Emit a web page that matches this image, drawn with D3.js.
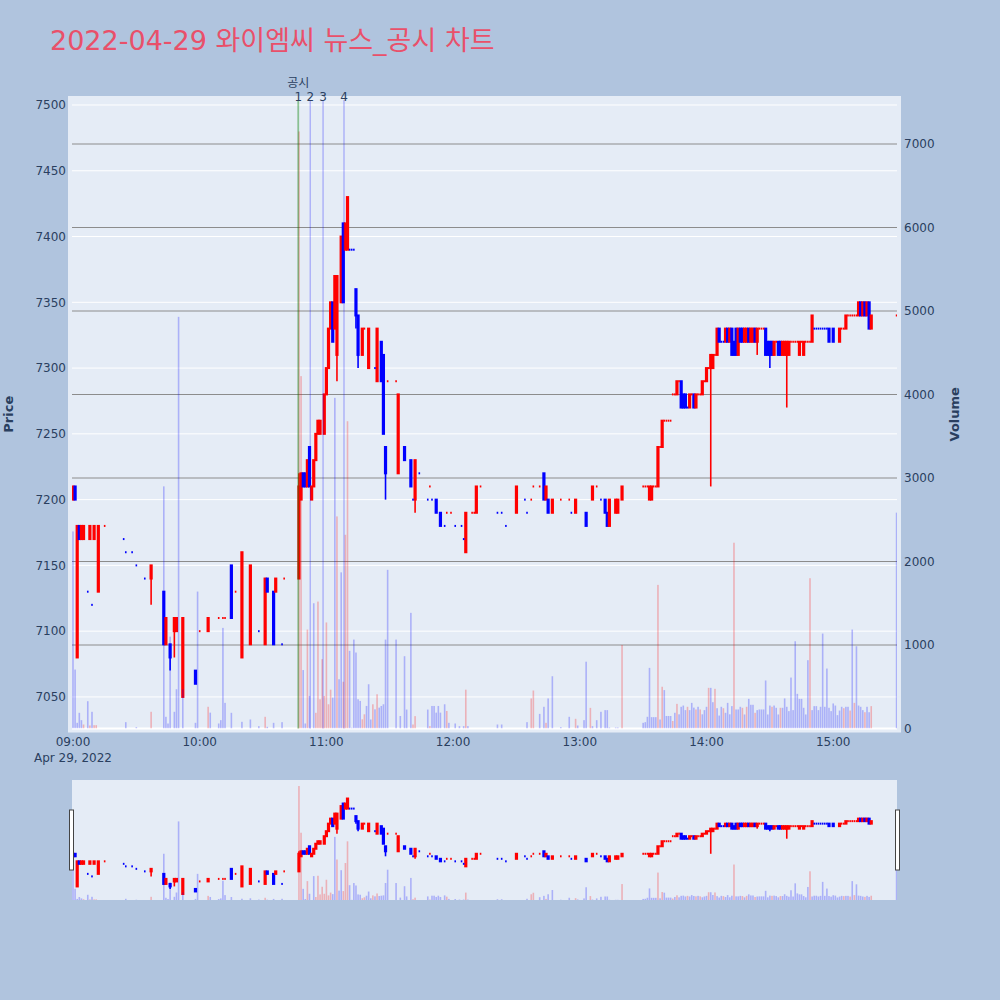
<!DOCTYPE html>
<html>
<head>
<meta charset="utf-8">
<script src="https://cdn.jsdelivr.net/npm/d3@7"></script>
<style>
  body { margin: 0; background: #b0c4de; }
  svg { display: block; font-family: "DejaVu Sans", "Noto Sans CJK KR", sans-serif; }
</style>
</head>
<body>
<svg id="chart" width="1000" height="1000"></svg>
<script>
const tradeDay = "2022-04-29";
const chartTitle = "2022-04-29 와이엠씨 뉴스_공시 차트";
const xRange = ["08:59:32", "15:30:12"];
const priceRange = [7026, 7503.8];
const volumeRange = [0, 7527];
const priceTicks = [7050, 7100, 7150, 7200, 7250, 7300, 7350, 7400, 7450, 7500];
const volumeTicks = [0, 1000, 2000, 3000, 4000, 5000, 6000, 7000];
const timeTicks = ["09:00", "10:00", "11:00", "12:00", "13:00", "14:00", "15:00"];
const dateLabel = "Apr 29, 2022";

// news / disclosure markers
const newsLines = [
  { time: "10:46:40", label: "1", kind: "공시" },
  { time: "10:52:20", label: "2", kind: "news" },
  { time: "10:58:25", label: "3", kind: "news" },
  { time: "11:08:20", label: "4", kind: "news" },
];

// 1-minute candles: [time, open, high, low, close]; [time, price] = flat tick
const candles = [
  ["09:00", 7200, 7210, 7200, 7210], ["09:01", 7210, 7210, 7200, 7200], ["09:02", 7080, 7180, 7080, 7180],
  ["09:03", 7180, 7180, 7170, 7170], ["09:04", 7170, 7180, 7170, 7180], ["09:05", 7170, 7180, 7170, 7180],
  ["09:07", 7130], ["09:08", 7170, 7180, 7170, 7180], ["09:09", 7120], ["09:10", 7170, 7180, 7170, 7180],
  ["09:12", 7130, 7180, 7130, 7180], ["09:15", 7180], ["09:24", 7170], ["09:25", 7160], ["09:28", 7160],
  ["09:30", 7150], ["09:34", 7140], ["09:37", 7140, 7150, 7120, 7150], ["09:43", 7130, 7130, 7090, 7090],
  ["09:44", 7090, 7110, 7090, 7110], ["09:46", 7090, 7090, 7070, 7080], ["09:48", 7100, 7110, 7080, 7110],
  ["09:49", 7100, 7110, 7100, 7110], ["09:52", 7050, 7110, 7050, 7110], ["09:58", 7070, 7070, 7060, 7060],
  ["10:00", 7100], ["10:04", 7100, 7110, 7100, 7110], ["10:09", 7110], ["10:11", 7110], ["10:12", 7110],
  ["10:15", 7150, 7150, 7110, 7110], ["10:17", 7130], ["10:20", 7080, 7160, 7080, 7160],
  ["10:24", 7090, 7150, 7090, 7150], ["10:28", 7100], ["10:31", 7090, 7140, 7090, 7140],
  ["10:32", 7140, 7140, 7130, 7130], ["10:35", 7130, 7130, 7090, 7090], ["10:36", 7130, 7140, 7130, 7140],
  ["10:39", 7090], ["10:40", 7140],
  ["10:47", 7140, 7220, 7140, 7210], ["10:48", 7200, 7220, 7200, 7220], ["10:49", 7220, 7220, 7210, 7210],
  ["10:50", 7220, 7220, 7210, 7210], ["10:51", 7210, 7230, 7210, 7230], ["10:52", 7240, 7240, 7210, 7210],
  ["10:53", 7200, 7210, 7200, 7210], ["10:54", 7210, 7230, 7210, 7230], ["10:55", 7230, 7250, 7230, 7250],
  ["10:56", 7250, 7260, 7250, 7260], ["10:57", 7250, 7260, 7250, 7260], ["10:59", 7250, 7280, 7250, 7280],
  ["11:00", 7280, 7300, 7280, 7300], ["11:01", 7300, 7330, 7300, 7330], ["11:02", 7330, 7350, 7330, 7350],
  ["11:03", 7350, 7350, 7320, 7320], ["11:04", 7330, 7370, 7330, 7370], ["11:05", 7310, 7370, 7290, 7370],
  ["11:07", 7350, 7400, 7350, 7400], ["11:08", 7410, 7410, 7350, 7350], ["11:09", 7390, 7410, 7390, 7410],
  ["11:10", 7390, 7430, 7390, 7430], ["11:11", 7390], ["11:12", 7390], ["11:13", 7390],
  ["11:14", 7360, 7360, 7330, 7340], ["11:15", 7340, 7340, 7300, 7310], ["11:17", 7310, 7330, 7310, 7330],
  ["11:18", 7330], ["11:20", 7300, 7330, 7300, 7330], ["11:23", 7300], ["11:24", 7290, 7330, 7290, 7330],
  ["11:26", 7320, 7320, 7290, 7290], ["11:27", 7310, 7310, 7250, 7250], ["11:28", 7240, 7240, 7200, 7220],
  ["11:29", 7290], ["11:33", 7290], ["11:34", 7220, 7280, 7220, 7280], ["11:37", 7240, 7240, 7230, 7230],
  ["11:40", 7230, 7230, 7210, 7210], ["11:41", 7200], ["11:42", 7200, 7230, 7190, 7230], ["11:44", 7220],
  ["11:48", 7200], ["11:49", 7210], ["11:50", 7200], ["11:52", 7200, 7200, 7190, 7190],
  ["11:54", 7190, 7190, 7180, 7180], ["11:56", 7180], ["11:57", 7190], ["11:59", 7190], ["12:01", 7180],
  ["12:04", 7180], ["12:05", 7170], ["12:06", 7160, 7190, 7160, 7190], ["12:09", 7190], ["12:10", 7190],
  ["12:11", 7190, 7210, 7190, 7210], ["12:13", 7210], ["12:21", 7190], ["12:23", 7190], ["12:25", 7180],
  ["12:30", 7190, 7210, 7190, 7210], ["12:34", 7200], ["12:35", 7190], ["12:37", 7200], ["12:38", 7210],
  ["12:41", 7210], ["12:43", 7220, 7220, 7200, 7200], ["12:44", 7200, 7210, 7200, 7210],
  ["12:45", 7200, 7200, 7190, 7190], ["12:47", 7190, 7200, 7190, 7200], ["12:51", 7200], ["12:55", 7200],
  ["12:56", 7190], ["12:58", 7190, 7200, 7190, 7200], ["13:03", 7190, 7190, 7180, 7180],
  ["13:06", 7200, 7210, 7200, 7210], ["13:08", 7210], ["13:10", 7200], ["13:12", 7200, 7200, 7190, 7190],
  ["13:13", 7190, 7190, 7180, 7180], ["13:14", 7180, 7200, 7180, 7200], ["13:17", 7190, 7200, 7190, 7200],
  ["13:18", 7190, 7200, 7190, 7200], ["13:20", 7200, 7210, 7200, 7210],
  ["13:30", 7210], ["13:31", 7210], ["13:32", 7210], ["13:33", 7200, 7210, 7200, 7210],
  ["13:34", 7200, 7210, 7200, 7210], ["13:35", 7210], ["13:36", 7210], ["13:37", 7210, 7240, 7210, 7240],
  ["13:38", 7240], ["13:39", 7240, 7260, 7240, 7260], ["13:40", 7260], ["13:41", 7260], ["13:42", 7260],
  ["13:43", 7260], ["13:44", 7280], ["13:45", 7280], ["13:46", 7280, 7290, 7280, 7290], ["13:47", 7290],
  ["13:48", 7290, 7290, 7270, 7270], ["13:49", 7280, 7280, 7270, 7270], ["13:50", 7280, 7280, 7270, 7270],
  ["13:51", 7270], ["13:52", 7270, 7280, 7270, 7280], ["13:53", 7280], ["13:54", 7280, 7280, 7270, 7270],
  ["13:55", 7270, 7280, 7270, 7280], ["13:56", 7280], ["13:57", 7280], ["13:58", 7280, 7290, 7280, 7290],
  ["13:59", 7290], ["14:00", 7290, 7300, 7290, 7300], ["14:01", 7300], ["14:02", 7300, 7310, 7210, 7310],
  ["14:03", 7300, 7310, 7300, 7310], ["14:04", 7310], ["14:05", 7310, 7330, 7310, 7330],
  ["14:06", 7330, 7330, 7320, 7320], ["14:07", 7320], ["14:08", 7320], ["14:09", 7320, 7330, 7320, 7330],
  ["14:10", 7330, 7330, 7320, 7320], ["14:11", 7320, 7330, 7320, 7330], ["14:12", 7330, 7330, 7310, 7310],
  ["14:13", 7320, 7320, 7310, 7310], ["14:14", 7330, 7330, 7310, 7310], ["14:15", 7310, 7330, 7310, 7330],
  ["14:16", 7330, 7330, 7320, 7320], ["14:17", 7330, 7330, 7320, 7320], ["14:18", 7320, 7330, 7320, 7330],
  ["14:19", 7320, 7330, 7320, 7330], ["14:20", 7330, 7330, 7320, 7320], ["14:21", 7320, 7330, 7320, 7330],
  ["14:22", 7320, 7330, 7320, 7330], ["14:23", 7330, 7330, 7320, 7320], ["14:24", 7320, 7330, 7310, 7330],
  ["14:25", 7330], ["14:26", 7330], ["14:27", 7330], ["14:28", 7330, 7330, 7310, 7310],
  ["14:29", 7320, 7320, 7310, 7310], ["14:30", 7320, 7320, 7300, 7310], ["14:31", 7320, 7320, 7310, 7310],
  ["14:32", 7310, 7320, 7310, 7320], ["14:33", 7320], ["14:34", 7320, 7320, 7310, 7310],
  ["14:35", 7320, 7320, 7310, 7310], ["14:36", 7310, 7320, 7310, 7320], ["14:37", 7310, 7320, 7310, 7320],
  ["14:38", 7310, 7320, 7270, 7320], ["14:39", 7310, 7320, 7310, 7320], ["14:40", 7320], ["14:41", 7320],
  ["14:42", 7320], ["14:43", 7320], ["14:44", 7310, 7320, 7310, 7320], ["14:45", 7320],
  ["14:46", 7310, 7320, 7310, 7320], ["14:47", 7320], ["14:48", 7320], ["14:49", 7320],
  ["14:50", 7320, 7340, 7320, 7340], ["14:51", 7330], ["14:52", 7330], ["14:53", 7330], ["14:54", 7330],
  ["14:55", 7330], ["14:56", 7330], ["14:57", 7330], ["14:58", 7330, 7330, 7320, 7320],
  ["15:00", 7330, 7330, 7320, 7320], ["15:03", 7320, 7330, 7320, 7330], ["15:04", 7330], ["15:05", 7330],
  ["15:06", 7330, 7340, 7330, 7340], ["15:07", 7340], ["15:08", 7340], ["15:09", 7340], ["15:10", 7340],
  ["15:11", 7340], ["15:12", 7340, 7350, 7340, 7350], ["15:13", 7350, 7350, 7340, 7340],
  ["15:14", 7340, 7350, 7340, 7350], ["15:15", 7350, 7350, 7340, 7340], ["15:16", 7340, 7350, 7340, 7350],
  ["15:17", 7350, 7350, 7330, 7330], ["15:18", 7330, 7340, 7330, 7340], ["15:30", 7340],
];

// 1-minute volume: [time, shares, "u" rising / "d" falling]
const volumes = [
  ["09:00", 2360, "d"], ["09:01", 706, "d"], ["09:02", 68, "d"], ["09:03", 188, "d"], ["09:04", 100, "d"],
  ["09:05", 48, "u"], ["09:07", 327, "d"], ["09:08", 36, "u"], ["09:09", 200, "d"], ["09:10", 40, "u"],
  ["09:11", 40, "u"], ["09:25", 76, "d"], ["09:30", 16, "d"], ["09:37", 200, "u"], ["09:43", 2900, "d"],
  ["09:44", 140, "d"], ["09:45", 60, "d"], ["09:46", 1100, "d"], ["09:48", 200, "d"], ["09:49", 470, "d"],
  ["09:50", 4930, "d"], ["09:52", 470, "d"], ["09:58", 68, "d"], ["09:59", 1640, "d"], ["10:04", 260, "u"],
  ["10:05", 190, "d"], ["10:09", 60, "d"], ["10:10", 100, "d"], ["10:11", 1205, "d"], ["10:12", 307, "d"],
  ["10:15", 188, "d"], ["10:20", 80, "d"], ["10:24", 108, "d"], ["10:28", 28, "d"], ["10:31", 140, "u"],
  ["10:32", 20, "d"], ["10:35", 68, "d"], ["10:39", 76, "d"],
  ["10:47", 7150, "u"], ["10:48", 4220, "u"], ["10:49", 700, "d"], ["10:50", 60, "d"], ["10:51", 1185, "u"],
  ["10:52", 390, "d"], ["10:54", 1500, "d"], ["10:55", 188, "u"], ["10:56", 1520, "u"], ["10:57", 350, "u"],
  ["10:58", 830, "u"], ["10:59", 390, "u"], ["11:00", 1270, "u"], ["11:01", 290, "u"], ["11:02", 465, "u"],
  ["11:03", 370, "d"], ["11:04", 3960, "d"], ["11:05", 2540, "u"], ["11:06", 590, "d"], ["11:07", 1870, "d"],
  ["11:08", 560, "u"], ["11:09", 2320, "u"], ["11:10", 3680, "u"], ["11:11", 930, "d"], ["11:12", 10, "d"],
  ["11:13", 1065, "d"], ["11:14", 910, "d"], ["11:15", 350, "d"], ["11:16", 330, "d"], ["11:17", 110, "u"],
  ["11:18", 170, "u"], ["11:19", 270, "d"], ["11:20", 530, "d"], ["11:21", 108, "d"], ["11:22", 290, "u"],
  ["11:23", 230, "d"], ["11:24", 410, "u"], ["11:25", 250, "d"], ["11:26", 270, "d"], ["11:27", 290, "d"],
  ["11:28", 1065, "d"], ["11:29", 1900, "d"], ["11:33", 1065, "d"], ["11:35", 150, "d"], ["11:37", 866, "d"],
  ["11:38", 227, "d"], ["11:40", 1385, "d"], ["11:41", 48, "u"], ["11:42", 148, "u"], ["11:48", 227, "d"],
  ["11:49", 28, "u"], ["11:50", 270, "d"], ["11:51", 270, "d"], ["11:52", 190, "d"], ["11:53", 270, "d"],
  ["11:54", 190, "d"], ["11:56", 290, "d"], ["11:57", 210, "u"], ["11:58", 68, "d"], ["12:01", 60, "d"],
  ["12:03", 28, "d"], ["12:05", 28, "d"], ["12:06", 465, "u"], ["12:07", 28, "d"], ["12:21", 48, "d"],
  ["12:23", 48, "d"], ["12:35", 76, "d"], ["12:37", 360, "u"], ["12:38", 455, "u"], ["12:41", 175, "d"],
  ["12:43", 260, "d"], ["12:44", 68, "u"], ["12:45", 360, "d"], ["12:47", 626, "d"], ["12:51", 16, "d"],
  ["12:55", 140, "d"], ["12:58", 116, "u"], ["12:59", 36, "d"], ["13:02", 100, "d"], ["13:03", 800, "d"],
  ["13:05", 247, "u"], ["13:06", 28, "d"], ["13:08", 100, "d"], ["13:10", 200, "d"], ["13:12", 220, "d"],
  ["13:13", 220, "d"], ["13:14", 12, "d"], ["13:17", 12, "d"], ["13:18", 12, "d"], ["13:20", 1000, "u"],
  ["13:30", 68, "d"], ["13:31", 76, "d"], ["13:32", 140, "d"], ["13:33", 726, "d"], ["13:34", 136, "d"],
  ["13:35", 136, "d"], ["13:36", 136, "d"], ["13:37", 1720, "u"], ["13:38", 108, "d"], ["13:39", 500, "u"],
  ["13:40", 460, "d"], ["13:41", 150, "d"], ["13:42", 150, "d"], ["13:43", 150, "d"], ["13:44", 90, "u"],
  ["13:45", 188, "d"], ["13:46", 295, "u"], ["13:47", 170, "d"], ["13:48", 260, "d"], ["13:49", 275, "d"],
  ["13:50", 220, "d"], ["13:51", 260, "u"], ["13:52", 220, "d"], ["13:53", 307, "d"], ["13:54", 250, "d"],
  ["13:55", 228, "u"], ["13:56", 260, "d"], ["13:57", 228, "u"], ["13:58", 170, "d"], ["13:59", 220, "d"],
  ["14:00", 260, "d"], ["14:01", 487, "u"], ["14:02", 487, "d"], ["14:03", 315, "d"], ["14:04", 475, "u"],
  ["14:05", 243, "d"], ["14:06", 155, "d"], ["14:07", 260, "d"], ["14:08", 243, "u"], ["14:09", 188, "d"],
  ["14:10", 307, "d"], ["14:11", 170, "d"], ["14:12", 268, "d"], ["14:13", 2225, "u"], ["14:14", 228, "d"],
  ["14:15", 228, "d"], ["14:16", 260, "d"], ["14:17", 248, "u"], ["14:18", 168, "d"], ["14:19", 260, "u"],
  ["14:20", 355, "d"], ["14:21", 284, "d"], ["14:22", 284, "d"], ["14:23", 188, "u"], ["14:24", 220, "d"],
  ["14:25", 228, "d"], ["14:26", 228, "d"], ["14:27", 228, "d"], ["14:28", 575, "d"], ["14:29", 168, "d"],
  ["14:30", 275, "d"], ["14:31", 260, "u"], ["14:32", 275, "d"], ["14:33", 248, "d"], ["14:34", 168, "d"],
  ["14:35", 248, "u"], ["14:36", 248, "d"], ["14:37", 360, "d"], ["14:38", 260, "d"], ["14:39", 208, "d"],
  ["14:40", 610, "d"], ["14:41", 220, "d"], ["14:42", 1045, "d"], ["14:43", 415, "d"], ["14:44", 355, "d"],
  ["14:45", 355, "d"], ["14:46", 248, "d"], ["14:47", 168, "d"], ["14:48", 818, "d"], ["14:49", 1800, "u"],
  ["14:50", 220, "d"], ["14:51", 268, "d"], ["14:52", 268, "d"], ["14:53", 220, "d"], ["14:54", 260, "d"],
  ["14:55", 1137, "d"], ["14:56", 260, "d"], ["14:57", 718, "d"], ["14:58", 248, "d"], ["14:59", 208, "d"],
  ["15:00", 300, "d"], ["15:01", 275, "d"], ["15:02", 160, "d"], ["15:03", 215, "d"], ["15:04", 260, "d"],
  ["15:05", 243, "u"], ["15:06", 260, "d"], ["15:07", 260, "d"], ["15:08", 215, "u"], ["15:09", 1185, "d"],
  ["15:10", 307, "u"], ["15:11", 985, "d"], ["15:12", 275, "d"], ["15:13", 260, "d"], ["15:14", 220, "d"],
  ["15:15", 195, "u"], ["15:16", 260, "d"], ["15:17", 195, "d"], ["15:18", 268, "u"], ["15:30", 2585, "d"],
];

const svg = d3.select("#chart");
const main = { left: 72, right: 897, top: 100, bottom: 728.5 };
const mini = { left: 72, right: 897, top: 780, bottom: 900 };
const ink = "#2a3f5f";
const up = "#ff0000";
const down = "#0000ff";

const parseTime = d3.timeParse("%Y-%m-%d %H:%M:%S");
const at = (s) => parseTime(`${tradeDay} ${s.length === 5 ? s + ":00" : s}`);

// flat candles take their colour from the previous close (plotly rule)
let prevClose;
let prevDir = 1;
const bars = candles.map(([t, o, h = o, l = o, c = o]) => {
  let dir;
  if (c > o) dir = 1;
  else if (c < o) dir = -1;
  else if (prevClose === undefined || c === prevClose) dir = prevDir;
  else dir = c > prevClose ? 1 : -1;
  prevClose = c;
  prevDir = dir;
  return { t: at(t), o, h, l, c, dir };
});
const vols = volumes.map(([t, v, d]) => ({ t: at(t), v, dir: d === "u" ? 1 : -1 }));
const tone = (d) => (d.dir > 0 ? up : down);

const x = d3.scaleTime().domain(xRange.map(at)).range([main.left, main.right]);
const y = d3.scaleLinear().domain(priceRange).range([main.bottom, main.top]);
const yv = d3.scaleLinear().domain(volumeRange).range([main.bottom, main.top]);
const xs = x.copy().range([mini.left, mini.right]);
const ys = y.copy().range([mini.bottom, mini.top]);
const yvs = yv.copy().range([mini.bottom, mini.top]);

// backgrounds
svg.append("rect").attr("x", main.left - 4).attr("y", main.top - 4)
  .attr("width", main.right - main.left + 8).attr("height", main.bottom - main.top + 8)
  .attr("fill", "#e5ecf6");
svg.append("rect").attr("x", mini.left).attr("y", mini.top)
  .attr("width", mini.right - mini.left).attr("height", mini.bottom - mini.top)
  .attr("fill", "#e5ecf6");

const defs = svg.append("defs");
defs.append("clipPath").attr("id", "clip-main").append("rect")
  .attr("x", main.left).attr("y", main.top - 4)
  .attr("width", main.right - main.left).attr("height", main.bottom - main.top + 4);
defs.append("clipPath").attr("id", "clip-mini").append("rect")
  .attr("x", mini.left).attr("y", mini.top)
  .attr("width", mini.right - mini.left).attr("height", mini.bottom - mini.top);

// grids
svg.append("g").selectAll("line").data(priceTicks).join("line")
  .attr("x1", main.left).attr("x2", main.right)
  .attr("y1", (d) => y(d)).attr("y2", (d) => y(d))
  .attr("stroke", "#fff").attr("stroke-width", 1);
svg.append("g").selectAll("line").data(volumeTicks.filter((d) => d > 0)).join("line")
  .attr("x1", main.left).attr("x2", main.right)
  .attr("y1", (d) => yv(d)).attr("y2", (d) => yv(d))
  .attr("stroke", "#8c8c8c").attr("stroke-width", 1);
svg.append("line").attr("x1", main.left).attr("x2", main.right)
  .attr("y1", yv(0)).attr("y2", yv(0)).attr("stroke", "#fff").attr("stroke-width", 2);

function drawSeries(g, xScale, yScale, vScale) {
  const moving = bars.filter((d) => d.o !== d.c);
  const flat = bars.filter((d) => d.o === d.c);
  g.append("g").selectAll("line").data(bars).join("line")
    .attr("x1", (d) => xScale(d.t)).attr("x2", (d) => xScale(d.t))
    .attr("y1", (d) => yScale(d.h)).attr("y2", (d) => yScale(d.l))
    .attr("stroke", tone).attr("stroke-width", 1.6);
  g.append("g").selectAll("rect").data(moving).join("rect")
    .attr("x", (d) => xScale(d.t) - 0.6).attr("width", 1.2)
    .attr("y", (d) => yScale(Math.max(d.o, d.c)))
    .attr("height", (d) => Math.abs(yScale(d.o) - yScale(d.c)))
    .attr("fill", tone).attr("stroke", tone).attr("stroke-width", 2);
  // flat candles show as short ticks
  g.append("g").selectAll("rect").data(flat).join("rect")
    .attr("x", (d) => xScale(d.t) - 0.8).attr("width", 1.6)
    .attr("y", (d) => yScale(d.c) - 1).attr("height", 2)
    .attr("fill", tone);
  g.append("g").selectAll("rect").data(vols).join("rect")
    .attr("x", (d) => xScale(d.t) - 0.8).attr("width", 1.6)
    .attr("y", (d) => vScale(d.v)).attr("height", (d) => vScale(0) - vScale(d.v))
    .attr("fill", tone).attr("fill-opacity", 0.25);
}

drawSeries(svg.append("g").attr("clip-path", "url(#clip-main)"), x, y, yv);
drawSeries(svg.append("g").attr("clip-path", "url(#clip-mini)"), xs, ys, yvs);

// news / disclosure lines
const marks = svg.append("g");
marks.selectAll("line").data(newsLines).join("line")
  .attr("x1", (d) => x(at(d.time))).attr("x2", (d) => x(at(d.time)))
  .attr("y1", main.top).attr("y2", main.bottom)
  .attr("stroke", (d) => (d.kind === "공시" ? "green" : "blue"))
  .attr("stroke-opacity", (d) => (d.kind === "공시" ? 0.4 : 0.3))
  .attr("stroke-width", (d) => (d.kind === "공시" ? 1.8 : 1.2));
marks.selectAll("text.num").data(newsLines).join("text").attr("class", "num")
  .attr("x", (d) => x(at(d.time))).attr("y", 101)
  .attr("text-anchor", "middle").attr("font-size", 12).attr("fill", ink)
  .text((d) => d.label);
marks.selectAll("text.kind").data(newsLines.filter((d) => d.kind === "공시")).join("text")
  .attr("class", "kind")
  .attr("x", (d) => x(at(d.time))).attr("y", 87)
  .attr("text-anchor", "middle").attr("font-size", 12).attr("fill", ink)
  .text((d) => d.kind);

// axes labels
svg.append("g").selectAll("text").data(priceTicks).join("text")
  .attr("x", 66).attr("y", (d) => y(d)).attr("dy", "0.36em")
  .attr("text-anchor", "end").attr("font-size", 12).attr("fill", ink)
  .text((d) => d);
svg.append("g").selectAll("text").data(volumeTicks).join("text")
  .attr("x", 904).attr("y", (d) => yv(d)).attr("dy", "0.36em")
  .attr("font-size", 12).attr("fill", ink)
  .text((d) => d);
svg.append("g").selectAll("text").data(timeTicks).join("text")
  .attr("x", (d) => x(at(d))).attr("y", 746)
  .attr("text-anchor", "middle").attr("font-size", 12).attr("fill", ink)
  .text((d) => d);
svg.append("text").attr("x", x(at(timeTicks[0]))).attr("y", 762)
  .attr("text-anchor", "middle").attr("font-size", 12).attr("fill", ink)
  .text(dateLabel);

svg.append("text").attr("transform", `translate(13,${(main.top + main.bottom) / 2}) rotate(-90)`)
  .attr("text-anchor", "middle").attr("font-size", 13).attr("font-weight", "bold").attr("fill", ink)
  .text("Price");
svg.append("text").attr("transform", `translate(959,${(main.top + main.bottom) / 2}) rotate(-90)`)
  .attr("text-anchor", "middle").attr("font-size", 13).attr("font-weight", "bold").attr("fill", ink)
  .text("Volume");

// range slider grabbers
svg.append("g").selectAll("rect").data([mini.left - 2.5, mini.right - 1.5]).join("rect")
  .attr("x", (d) => d).attr("y", 810).attr("width", 4).attr("height", 60)
  .attr("fill", "#fff").attr("stroke", "#444").attr("stroke-width", 1);

svg.append("text").attr("x", 50).attr("y", 50)
  .attr("font-size", 27).attr("fill", "#e9506a")
  .text(chartTitle);
</script>
</body>
</html>
